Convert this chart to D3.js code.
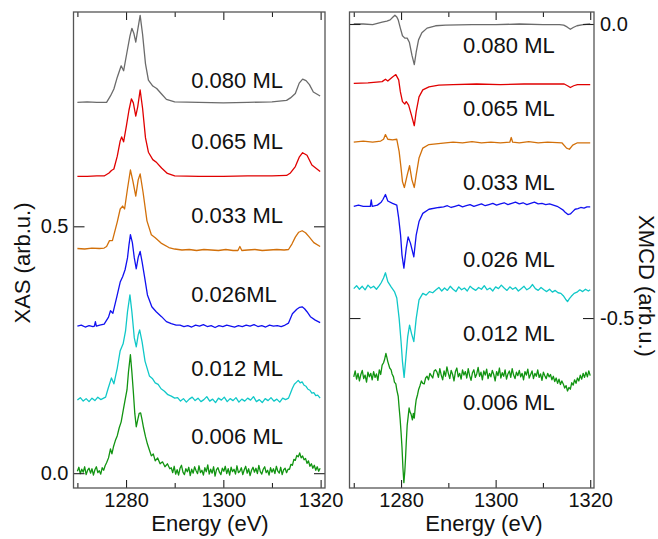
<!DOCTYPE html>
<html>
<head>
<meta charset="utf-8">
<script src="https://cdn.jsdelivr.net/npm/d3@7"></script>
<style>
body { margin: 0; background: #fff; }
svg text { font-family: "Liberation Sans", Arial, Helvetica, sans-serif; fill: #111; }
.tick text { font-size: 20px; }
.lbl { font-size: 22px; }
</style>
</head>
<body>
<div id="chart"></div>
<script>
// chart size
var width = 658;
var height = 539;

// energies of the axis ticks
var majorTicks = [1280, 1300, 1320];
var minorTicks = [1270, 1290, 1310];

var coverageXas = ["0.080 ML", "0.065 ML", "0.033 ML", "0.026ML", "0.012 ML", "0.006 ML"];
var coverageXmcd = ["0.080 ML", "0.065 ML", "0.033 ML", "0.026 ML", "0.012 ML", "0.006 ML"];
var colors = ["#6b6b6b", "#e00000", "#d2700a", "#1010f0", "#10c8c8", "#119411"];

// XAS spectra, [energy (eV), intensity]
var xas080 = [[1270,0.751],[1272,0.752],[1274,0.751],[1276,0.751],[1276.8,0.764],[1277.5,0.778],[1278.2,0.802],[1279,0.825],[1279.5,0.815],[1280.2,0.853],[1280.8,0.885],[1281.2,0.901],[1281.6,0.891],[1282,0.873],[1282.4,0.898],[1282.9,0.927],[1283.4,0.889],[1284,0.829],[1284.6,0.796],[1285.5,0.784],[1286.3,0.779],[1287.3,0.768],[1288.3,0.757],[1290,0.752],[1295,0.751],[1300,0.750],[1305,0.751],[1310,0.752],[1313,0.755],[1313.8,0.760],[1314.8,0.769],[1315.6,0.790],[1316.3,0.798],[1317,0.795],[1317.7,0.787],[1318.5,0.772],[1319.9,0.764]];

var xas065 = [[1270,0.601],[1272,0.601],[1274,0.602],[1275.5,0.602],[1276.5,0.608],[1277,0.613],[1277.5,0.616],[1278.2,0.642],[1278.8,0.673],[1279.1,0.681],[1279.5,0.671],[1280.1,0.705],[1280.6,0.735],[1281.1,0.758],[1281.5,0.750],[1282,0.723],[1282.4,0.742],[1282.9,0.776],[1283.4,0.739],[1284,0.679],[1284.6,0.650],[1285.5,0.635],[1286.3,0.629],[1287.3,0.618],[1288.5,0.607],[1290,0.602],[1295,0.601],[1300,0.601],[1305,0.602],[1310,0.602],[1313,0.603],[1313.8,0.608],[1314.8,0.621],[1315.6,0.640],[1316.3,0.649],[1317.2,0.644],[1318.2,0.624],[1319.9,0.611]];

var xas033 = [[1270,0.455],[1271.5,0.454],[1273,0.456],[1274.5,0.455],[1275.5,0.456],[1276,0.459],[1276.6,0.471],[1277.2,0.471],[1278.2,0.509],[1278.8,0.535],[1279.3,0.541],[1279.7,0.535],[1280.3,0.576],[1280.9,0.614],[1281.4,0.592],[1282,0.561],[1282.5,0.594],[1282.9,0.606],[1283.5,0.569],[1284.3,0.511],[1285.2,0.483],[1286,0.477],[1287.2,0.466],[1288.8,0.457],[1290,0.454],[1291.5,0.452],[1293,0.453],[1294.5,0.451],[1296,0.453],[1297.5,0.452],[1299,0.451],[1300.5,0.453],[1302,0.451],[1303,0.451],[1303.4,0.459],[1303.8,0.451],[1305,0.452],[1306.5,0.453],[1308,0.451],[1309.5,0.452],[1311,0.453],[1312.5,0.452],[1313.4,0.453],[1314.1,0.464],[1314.8,0.478],[1315.5,0.488],[1316.2,0.491],[1316.9,0.487],[1317.6,0.479],[1318.6,0.467],[1319.9,0.459]];

var xas026 = [[1270,0.298],[1270.8,0.300],[1271.6,0.296],[1272.4,0.299],[1273.2,0.297],[1273.5,0.298],[1273.7,0.307],[1273.9,0.298],[1274.6,0.300],[1275.5,0.302],[1276.4,0.316],[1276.8,0.329],[1277.3,0.324],[1278.1,0.357],[1278.8,0.387],[1279.3,0.398],[1279.8,0.412],[1280.3,0.436],[1280.6,0.462],[1280.9,0.483],[1281.3,0.467],[1281.7,0.436],[1282.1,0.414],[1282.5,0.437],[1282.9,0.449],[1283.3,0.428],[1283.8,0.398],[1284.4,0.361],[1285.3,0.337],[1286.2,0.327],[1287.3,0.317],[1288.3,0.307],[1289.3,0.303],[1290.3,0.300],
[1291.1,0.300],[1291.9,0.297],[1292.7,0.299],[1293.5,0.296],[1294.3,0.300],[1295.1,0.298],[1295.9,0.301],[1296.7,0.297],[1297.5,0.299],[1298.3,0.295],[1299.1,0.299],[1299.9,0.297],[1300.7,0.300],[1301.5,0.298],[1302.3,0.296],[1303.1,0.299],[1303.9,0.297],[1304.7,0.300],[1305.5,0.298],[1306.3,0.301],[1307.1,0.297],[1307.9,0.299],[1308.7,0.296],[1309.5,0.300],[1310.3,0.298],[1311.1,0.299],[1311.9,0.297],[1312.7,0.300],
[1313.4,0.304],[1314.2,0.323],[1315.1,0.332],[1315.7,0.336],[1316.2,0.337],[1316.7,0.333],[1317.2,0.327],[1317.9,0.317],[1318.9,0.310],[1319.9,0.305]];

var xas012 = [[1270,0.148],[1270.6,0.153],[1271.2,0.146],[1271.8,0.151],[1272.4,0.145],[1273,0.152],[1273.6,0.147],[1274.2,0.154],[1274.8,0.149],[1275.4,0.152],[1275.8,0.154],[1276.3,0.171],[1277,0.193],[1277.5,0.181],[1278.2,0.213],[1278.8,0.248],[1279.4,0.262],[1279.9,0.288],[1280.3,0.327],[1280.8,0.361],[1281.2,0.327],[1281.7,0.274],[1282.1,0.256],[1282.5,0.280],[1282.8,0.290],[1283.3,0.266],[1283.9,0.227],[1284.8,0.197],[1285.4,0.192],[1286,0.183],[1286.6,0.180],[1287.2,0.171],[1287.9,0.166],[1288.6,0.159],[1289.3,0.156],[1290,0.152],
[1290.6,0.153],[1291.2,0.146],[1291.8,0.151],[1292.4,0.144],[1293,0.150],[1293.6,0.154],[1294.2,0.147],[1294.8,0.152],[1295.4,0.145],[1296,0.149],[1296.6,0.155],[1297.2,0.146],[1297.8,0.150],[1298.4,0.143],[1299,0.152],[1299.6,0.148],[1300.2,0.154],[1300.8,0.145],[1301.4,0.151],[1302,0.147],[1302.6,0.153],[1303.2,0.144],[1303.8,0.150],[1304.4,0.146],[1305,0.152],[1305.6,0.148],[1306.2,0.155],[1306.8,0.145],[1307.4,0.149],[1308,0.143],[1308.6,0.151],[1309.2,0.147],[1309.8,0.153],[1310.4,0.146],[1311,0.150],[1311.6,0.144],[1312.2,0.152],[1312.8,0.149],
[1313.4,0.152],[1313.8,0.162],[1314.2,0.172],[1314.6,0.180],[1315,0.184],[1315.4,0.188],[1315.8,0.183],[1316.2,0.185],[1316.6,0.178],[1317,0.176],[1317.4,0.170],[1317.8,0.168],[1318.2,0.162],[1318.6,0.163],[1319,0.157],[1319.4,0.158],[1319.9,0.152]];

var xas006 = [[1270,0.004],[1270.3,0.012],[1270.6,-0.001],[1270.9,0.008],[1271.2,0.002],[1271.5,0.013],[1271.8,-0.003],[1272.1,0.006],[1272.4,0.010],[1272.7,0.000],[1273,0.009],[1273.3,-0.004],[1273.6,0.007],[1273.9,0.013],[1274.2,0.001],[1274.5,0.005],[1274.8,-0.002],[1275.1,0.011],[1275.4,0.006],[1275.7,0.015],
[1276,0.021],[1276.4,0.031],[1276.8,0.049],[1277.1,0.039],[1277.4,0.053],[1277.8,0.066],[1278.2,0.076],[1278.6,0.092],[1279,0.104],[1279.4,0.126],[1279.8,0.148],[1280.2,0.169],[1280.5,0.205],[1280.9,0.240],[1281.2,0.205],[1281.5,0.165],[1281.8,0.121],[1282.1,0.094],[1282.4,0.108],[1282.7,0.121],[1283,0.122],[1283.3,0.108],[1283.6,0.092],[1284,0.074],[1284.4,0.059],[1284.8,0.047],[1285.2,0.035],[1285.6,0.039],[1286,0.025],[1286.5,0.031],[1287,0.019],[1287.5,0.023],[1288,0.013],[1288.5,0.019],[1289,0.009],
[1289.3,0.011],[1289.6,0.001],[1289.9,0.014],[1290.2,-0.002],[1290.5,0.007],[1290.8,-0.004],[1291.1,0.010],[1291.4,0.016],[1291.7,0.002],[1292,-0.003],[1292.3,0.009],[1292.6,0.003],[1292.9,0.012],[1293.2,-0.005],[1293.5,0.008],[1293.8,0.000],[1294.1,0.013],[1294.4,0.005],[1294.7,-0.001],[1295,0.015],[1295.3,0.001],[1295.6,0.006],[1295.9,-0.004],[1296.2,0.011],[1296.5,0.003],[1296.8,0.017],[1297.1,-0.002],[1297.4,0.008],[1297.7,0.000],[1298,0.013],[1298.3,-0.006],[1298.6,0.007],[1298.9,0.011],[1299.2,0.002],[1299.5,-0.003],[1299.8,0.010],[1300.1,0.004],[1300.4,0.014],[1300.7,-0.001],[1301,0.009],[1301.3,-0.004],[1301.6,0.012],[1301.9,0.003],[1302.2,0.008],[1302.5,-0.002],[1302.8,0.015],[1303.1,0.001],[1303.4,0.004],[1303.7,0.011],[1304,-0.003],[1304.3,0.007],[1304.6,0.014],[1304.9,0.000],[1305.2,0.009],[1305.5,-0.005],[1305.8,0.006],[1306.1,0.012],[1306.4,0.002],[1306.7,0.010],[1307,-0.001],[1307.3,0.016],[1307.6,0.003],[1307.9,-0.002],[1308.2,0.008],[1308.5,0.013],[1308.8,0.001],[1309.1,0.006],[1309.4,-0.004],[1309.7,0.011],[1310,0.002],[1310.3,0.009],[1310.6,-0.001],[1310.9,0.014],[1311.2,0.004],[1311.5,0.000],[1311.8,0.012],[1312.1,-0.003],[1312.4,0.007],[1312.7,0.010],[1313,0.001],[1313.3,0.008],
[1313.6,0.008],[1313.9,0.018],[1314.2,0.016],[1314.5,0.028],[1314.8,0.026],[1315.1,0.036],[1315.4,0.033],[1315.7,0.041],[1316,0.031],[1316.3,0.035],[1316.6,0.027],[1316.9,0.030],[1317.2,0.020],[1317.5,0.025],[1317.8,0.014],[1318.1,0.019],[1318.4,0.010],[1318.7,0.016],[1319,0.006],[1319.3,0.013],[1319.6,0.004],[1319.9,0.010]];

// XMCD spectra, [energy (eV), intensity]
var xmcd080 = [[1270,0.000],[1272,0.000],[1274,-0.001],[1276,0.003],[1277,0.005],[1277.7,0.007],[1278.3,0.012],[1278.7,0.015],[1279.1,0.012],[1279.4,0.007],[1279.85,-0.007],[1280.3,-0.020],[1280.8,-0.024],[1281.3,-0.024],[1281.75,-0.031],[1282.3,-0.053],[1282.8,-0.069],[1283.2,-0.048],[1283.7,-0.027],[1284.4,-0.015],[1285.5,-0.007],[1287.3,-0.003],[1289.4,-0.002],[1295,-0.001],[1300,-0.001],[1305,0.000],[1310,-0.001],[1313.5,-0.001],[1314.4,-0.002],[1315.1,-0.005],[1315.8,-0.009],[1316.4,-0.006],[1317.2,-0.003],[1318.5,-0.001],[1320,0.000]];

var xmcd065 = [[1270,-0.101],[1273,-0.100],[1276,-0.098],[1276.7,-0.094],[1277.2,-0.097],[1278.2,-0.090],[1278.9,-0.086],[1279.5,-0.095],[1279.85,-0.115],[1280.3,-0.132],[1280.8,-0.136],[1281.1,-0.132],[1281.6,-0.138],[1282.2,-0.155],[1282.8,-0.173],[1283.2,-0.149],[1283.8,-0.124],[1284.6,-0.112],[1285.9,-0.107],[1288,-0.104],[1291,-0.103],[1296,-0.102],[1301,-0.103],[1306,-0.102],[1311,-0.102],[1314.5,-0.102],[1315.2,-0.105],[1315.8,-0.108],[1316.5,-0.105],[1317.3,-0.103],[1320,-0.103]];

var xmcd033 = [[1270,-0.201],[1272,-0.199],[1274,-0.201],[1275.7,-0.199],[1276.3,-0.196],[1276.7,-0.188],[1277.2,-0.196],[1278.2,-0.197],[1279.1,-0.196],[1279.6,-0.217],[1280,-0.245],[1280.3,-0.268],[1280.7,-0.278],[1281.3,-0.257],[1281.8,-0.241],[1282.3,-0.265],[1282.8,-0.278],[1283.2,-0.257],[1283.8,-0.228],[1284.6,-0.211],[1285.9,-0.205],[1289.4,-0.202],[1291,-0.201],[1293,-0.202],[1295,-0.200],[1297,-0.202],[1299,-0.201],[1301,-0.202],[1303,-0.201],[1303.3,-0.193],[1303.6,-0.201],[1305,-0.202],[1307,-0.200],[1309,-0.202],[1311,-0.201],[1314,-0.202],[1315,-0.211],[1315.6,-0.213],[1316.3,-0.206],[1317.3,-0.202],[1320,-0.202]];

var xmcd026 = [[1270,-0.310],[1271,-0.308],[1272,-0.310],[1273.5,-0.310],[1273.7,-0.299],[1273.9,-0.310],[1275,-0.308],[1275.8,-0.303],[1276.2,-0.298],[1276.7,-0.290],[1277.2,-0.301],[1278.2,-0.305],[1279.1,-0.308],[1279.5,-0.330],[1279.9,-0.359],[1280.2,-0.393],[1280.6,-0.415],[1281.1,-0.381],[1281.5,-0.362],[1282,-0.373],[1282.7,-0.396],[1283.2,-0.359],[1283.8,-0.336],[1284.6,-0.322],[1285.9,-0.315],[1288,-0.312],
[1289,-0.311],[1289.8,-0.309],[1290.6,-0.312],[1291.4,-0.310],[1292.2,-0.308],[1293,-0.311],[1293.8,-0.309],[1294.6,-0.307],[1295.4,-0.310],[1296.2,-0.308],[1297,-0.306],[1297.8,-0.309],[1298.6,-0.307],[1299.4,-0.305],[1300.2,-0.308],[1301,-0.306],[1301.8,-0.304],[1302.6,-0.307],[1303.4,-0.305],[1304.2,-0.303],[1305,-0.306],[1305.8,-0.304],[1306.6,-0.307],[1307.4,-0.305],[1308.2,-0.303],[1309,-0.306],[1309.8,-0.305],[1310.6,-0.307],[1311.4,-0.306],[1312.2,-0.308],[1313,-0.310],
[1313.6,-0.313],[1314.2,-0.316],[1314.7,-0.320],[1315.3,-0.324],[1315.8,-0.323],[1316.3,-0.319],[1316.8,-0.315],[1317.4,-0.314],[1318,-0.312],[1318.7,-0.313],[1319.3,-0.311],[1320,-0.311]];

var xmcd012 = [[1270,-0.450],[1270.6,-0.445],[1271.2,-0.451],[1271.8,-0.446],[1272.4,-0.452],[1273,-0.444],[1273.6,-0.449],[1274.2,-0.446],[1274.8,-0.451],[1275.4,-0.445],[1275.8,-0.440],[1276.3,-0.432],[1276.7,-0.423],[1277.2,-0.438],[1277.9,-0.447],[1278.6,-0.455],[1279.1,-0.466],[1279.6,-0.501],[1280,-0.540],[1280.3,-0.574],[1280.65,-0.601],[1281,-0.569],[1281.4,-0.532],[1281.8,-0.512],[1282.2,-0.526],[1282.7,-0.540],[1283.2,-0.501],[1283.8,-0.469],[1284.6,-0.458],[1285.3,-0.461],[1286,-0.455],[1286.7,-0.457],[1287.4,-0.452],
[1288,-0.448],[1288.6,-0.454],[1289.2,-0.449],[1289.8,-0.453],[1290.4,-0.446],[1291,-0.451],[1291.6,-0.455],[1292.2,-0.447],[1292.8,-0.452],[1293.4,-0.449],[1294,-0.454],[1294.6,-0.446],[1295.2,-0.450],[1295.8,-0.453],[1296.4,-0.448],[1297,-0.451],[1297.6,-0.445],[1298.2,-0.452],[1298.8,-0.449],[1299.4,-0.454],[1300,-0.447],[1300.6,-0.450],[1301.2,-0.444],[1301.8,-0.449],[1302.4,-0.453],[1303,-0.447],[1303.6,-0.451],[1304.2,-0.448],[1304.8,-0.454],[1305.4,-0.450],[1306,-0.446],[1306.6,-0.452],[1307.2,-0.449],[1307.8,-0.443],[1308.4,-0.450],[1309,-0.453],[1309.6,-0.448],[1310.2,-0.452],[1310.8,-0.455],[1311.4,-0.451],[1312,-0.456],[1312.6,-0.453],[1313.2,-0.457],
[1313.8,-0.458],[1314.3,-0.462],[1314.8,-0.468],[1315.2,-0.472],[1315.6,-0.467],[1316,-0.463],[1316.6,-0.458],[1317.2,-0.456],[1317.8,-0.452],[1318.4,-0.455],[1319,-0.451],[1319.6,-0.454],[1320,-0.452]];

var xmcd006 = [[1270,-0.600],[1270.3,-0.590],[1270.6,-0.604],[1270.9,-0.594],[1271.2,-0.607],[1271.5,-0.596],[1271.8,-0.589],[1272.1,-0.603],[1272.4,-0.597],[1272.7,-0.609],[1273,-0.592],[1273.3,-0.600],[1273.6,-0.594],[1273.9,-0.605],[1274.2,-0.591],[1274.5,-0.601],[1274.8,-0.595],[1275.1,-0.606],[1275.4,-0.588],[1275.7,-0.596],
[1276,-0.580],[1276.3,-0.576],[1276.5,-0.571],[1276.8,-0.560],[1277,-0.567],[1277.2,-0.574],[1277.6,-0.585],[1277.9,-0.588],[1278.1,-0.595],[1278.4,-0.600],[1278.6,-0.609],[1278.9,-0.612],[1279.1,-0.622],[1279.4,-0.633],[1279.6,-0.653],[1279.8,-0.671],[1280,-0.694],[1280.2,-0.720],[1280.4,-0.755],[1280.6,-0.780],[1280.8,-0.760],[1280.95,-0.738],[1281.1,-0.712],[1281.3,-0.682],[1281.5,-0.668],[1281.7,-0.653],[1281.9,-0.660],[1282.1,-0.663],[1282.4,-0.673],[1282.6,-0.662],[1282.8,-0.670],[1283,-0.652],[1283.2,-0.639],[1283.5,-0.630],[1283.7,-0.622],[1284,-0.615],[1284.3,-0.607],[1284.6,-0.611],[1284.9,-0.612],[1285.2,-0.602],[1285.5,-0.599],[1285.8,-0.605],[1286.1,-0.594],[1286.4,-0.598],[1286.7,-0.602],[1287,-0.590],[1287.3,-0.588],
[1287.6,-0.592],[1287.9,-0.601],[1288.2,-0.586],[1288.5,-0.597],[1288.8,-0.605],[1289.1,-0.590],[1289.4,-0.599],[1289.7,-0.583],[1290,-0.594],[1290.3,-0.603],[1290.6,-0.589],[1290.9,-0.596],[1291.2,-0.607],[1291.5,-0.591],[1291.8,-0.585],[1292.1,-0.600],[1292.4,-0.594],[1292.7,-0.604],[1293,-0.588],[1293.3,-0.597],[1293.6,-0.591],[1293.9,-0.602],[1294.2,-0.586],[1294.5,-0.598],[1294.8,-0.606],[1295.1,-0.593],[1295.4,-0.588],[1295.7,-0.601],[1296,-0.595],[1296.3,-0.584],[1296.6,-0.599],[1296.9,-0.592],[1297.2,-0.605],[1297.5,-0.590],[1297.8,-0.597],[1298.1,-0.587],[1298.4,-0.603],[1298.7,-0.594],[1299,-0.600],[1299.3,-0.589],[1299.6,-0.596],[1299.9,-0.607],[1300.2,-0.591],[1300.5,-0.598],[1300.8,-0.585],[1301.1,-0.602],[1301.4,-0.593],[1301.7,-0.599],[1302,-0.588],[1302.3,-0.604],[1302.6,-0.595],[1302.9,-0.590],[1303.2,-0.601],[1303.5,-0.586],[1303.8,-0.597],[1304.1,-0.603],[1304.4,-0.592],[1304.7,-0.598],[1305,-0.589],[1305.3,-0.600],[1305.6,-0.594],[1305.9,-0.605],[1306.2,-0.591],[1306.5,-0.597],[1306.8,-0.587],[1307.1,-0.602],[1307.4,-0.596],[1307.7,-0.590],[1308,-0.603],[1308.3,-0.594],[1308.6,-0.599],[1308.9,-0.588],[1309.2,-0.601],[1309.5,-0.595],[1309.8,-0.606],[1310.1,-0.592],[1310.4,-0.598],[1310.7,-0.603],[1311,-0.594],[1311.3,-0.600],[1311.6,-0.596],[1311.9,-0.605],[1312.2,-0.599],[1312.5,-0.608],[1312.8,-0.602],[1313.1,-0.611],[1313.4,-0.604],[1313.7,-0.613],[1314,-0.607],
[1314.3,-0.612],[1314.6,-0.619],[1314.9,-0.615],[1315.2,-0.624],[1315.5,-0.618],[1315.8,-0.621],[1316.1,-0.610],[1316.4,-0.614],[1316.7,-0.605],[1317,-0.611],[1317.3,-0.602],[1317.6,-0.607],[1317.9,-0.597],[1318.2,-0.604],[1318.5,-0.594],[1318.8,-0.601],[1319.1,-0.592],[1319.4,-0.600],[1319.7,-0.590],[1320,-0.598]];

var xasSeries = [xas080, xas065, xas033, xas026, xas012, xas006];
var xmcdSeries = [xmcd080, xmcd065, xmcd033, xmcd026, xmcd012, xmcd006];

// where the coverage labels sit, in data units of each panel
var xasLabelE = 1293.4;
var xasLabelV = [0.781, 0.656, 0.507, 0.347, 0.197, 0.059];
var xmcdLabelE = 1293.1;
var xmcdLabelV = [-0.050, -0.156, -0.282, -0.413, -0.539, -0.656];

// frame top and bottom in pixels
var plotTop = 12, plotBottom = 488;

var svg = d3.select("#chart")
  .append("svg")
  .attr("width", width)
  .attr("height", height);

svg.append("rect").attr("width", width).attr("height", height).attr("fill", "#fff");

function fmt(d) { return d.toFixed(1); }

function drawPanel(p) {
  var x = d3.scaleLinear().domain(p.xDomain).range(p.xRange);
  var y = d3.scaleLinear().domain(p.yDomain).range([plotBottom, plotTop]);
  var g = svg.append("g");

  var line = d3.line()
    .x(function(d) { return x(d[0]); })
    .y(function(d) { return y(d[1]); });

  // spectra
  g.selectAll("path.spec")
    .data(p.series)
    .enter()
    .append("path")
    .attr("class", "spec")
    .attr("d", line)
    .attr("fill", "none")
    .attr("stroke", function(d, i) { return colors[i]; })
    .attr("stroke-width", 1.3)
    .attr("stroke-linejoin", "round");

  // bottom axis, major ticks with labels
  g.append("g")
    .attr("transform", "translate(0," + plotBottom + ")")
    .call(d3.axisBottom(x).tickValues(majorTicks).tickSize(-8).tickPadding(5).tickFormat(d3.format("d")));
  g.append("g")
    .attr("transform", "translate(0," + plotBottom + ")")
    .call(d3.axisBottom(x).tickValues(minorTicks).tickSize(-5).tickFormat(""));
  // top axis
  g.append("g")
    .attr("transform", "translate(0," + plotTop + ")")
    .call(d3.axisTop(x).tickValues(majorTicks).tickSize(-8).tickFormat(""));
  g.append("g")
    .attr("transform", "translate(0," + plotTop + ")")
    .call(d3.axisTop(x).tickValues(minorTicks).tickSize(-5).tickFormat(""));

  // y axes, ticks inward on both sides
  var x0 = p.xRange[0], x1 = p.xRange[1];
  var yl = d3.axisLeft(y).tickValues(p.yTicks).tickSize(-11).tickPadding(5)
    .tickFormat(p.labelSide === "left" ? fmt : "");
  var yr = d3.axisRight(y).tickValues(p.yTicks).tickSize(-11).tickPadding(6)
    .tickFormat(p.labelSide === "right" ? fmt : "");
  g.append("g").attr("transform", "translate(" + x0 + ",0)").call(yl);
  g.append("g").attr("transform", "translate(" + x1 + ",0)").call(yr);

  g.selectAll(".domain").remove();
  g.selectAll(".tick line").attr("stroke", "#222").attr("stroke-width", 1.1);

  // frame
  g.append("rect")
    .attr("x", x0)
    .attr("y", plotTop)
    .attr("width", x1 - x0)
    .attr("height", plotBottom - plotTop)
    .attr("fill", "none")
    .attr("stroke", "#555")
    .attr("stroke-width", 1.3);

  // coverage labels
  g.selectAll("text.lbl")
    .data(p.labels)
    .enter()
    .append("text")
    .attr("class", "lbl")
    .attr("x", x(p.labelE))
    .attr("y", function(d, i) { return y(p.labelV[i]); })
    .text(function(d) { return d; });

  // axis title
  g.append("text")
    .attr("class", "lbl")
    .attr("text-anchor", "middle")
    .attr("x", p.titleX)
    .attr("y", 531)
    .text("Energy (eV)");

  return g;
}

drawPanel({
  xDomain: [1269.2, 1320.9], xRange: [73.5, 325],
  yDomain: [-0.030, 0.934], yTicks: [0, 0.5], labelSide: "left",
  series: xasSeries, labels: coverageXas, labelE: xasLabelE, labelV: xasLabelV,
  titleX: 210
});

drawPanel({
  xDomain: [1269.1, 1320.8], xRange: [349.5, 594],
  yDomain: [-0.789, 0.0204], yTicks: [0, -0.5], labelSide: "right",
  series: xmcdSeries, labels: coverageXmcd, labelE: xmcdLabelE, labelV: xmcdLabelV,
  titleX: 484
});

svg.append("text")
  .attr("class", "lbl")
  .attr("text-anchor", "middle")
  .attr("transform", "translate(30,263) rotate(-90)")
  .text("XAS (arb.u.)");

svg.append("text")
  .attr("class", "lbl")
  .attr("text-anchor", "middle")
  .attr("transform", "translate(639,286) rotate(90)")
  .text("XMCD (arb.u.)");
</script>
</body>
</html>
